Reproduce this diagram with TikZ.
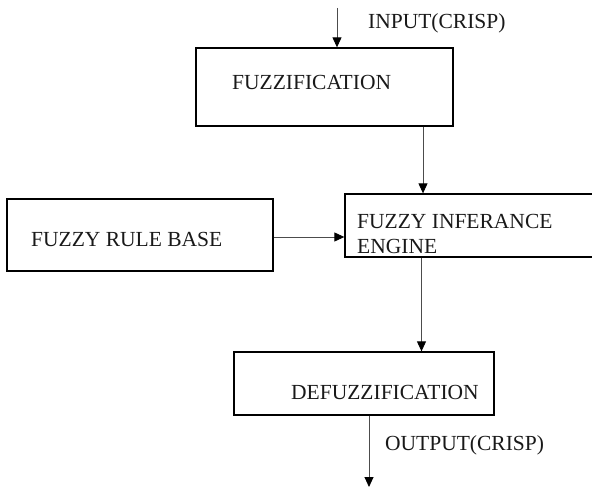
\documentclass[tikz,border=0pt]{standalone}
\usepackage{fontspec}
\setmainfont{Liberation Serif}
\usetikzlibrary{arrows.meta}
\begin{document}
\begin{tikzpicture}[x=1pt,y=-1pt,
  blk/.style={draw=black,line width=1.3pt,rectangle,inner sep=0pt},
  lbl/.style={anchor=base west,inner sep=0pt,font=\fontsize{21.5}{25}\selectfont,text=black!90},
  arr/.style={draw=black!70,line width=0.9pt,-{Triangle[width=9pt,length=10pt,fill=black,color=black]}}]
\useasboundingbox (0,0) rectangle (592,489);
% boxes
\node[blk,minimum width=257pt,minimum height=78pt] (fuzz) at (324.5,87) {};
\node[blk,minimum width=266pt,minimum height=72pt] (rule) at (140,235) {};
\node[blk,minimum width=252pt,minimum height=63pt] (inf) at (471,225.5) {};
\node[blk,minimum width=260pt,minimum height=63pt] (defz) at (364,383.5) {};
% texts
\node[lbl] (tfuzz) at (232,90) {FUZZIFICATION};
\node[lbl] (trule) at (31,247) {FUZZY RULE BASE};
\node[lbl,align=left] (tinf) at (357,254) {FUZZY INFERANCE\\ENGINE};
\node[lbl] (tdefz) at (291,399) {DEFUZZIFICATION};
\node[lbl] (tin) at (368,29) {INPUT(CRISP)};
\node[lbl] (tout) at (385,450) {OUTPUT(CRISP)};
% connector helpers
\coordinate (inTop) at (337,8);
\coordinate (c1) at (423,0);
\coordinate (c2) at (0,237);
\coordinate (c3) at (421.5,0);
\coordinate (outEnd) at (369,487);
% connectors
\draw[arr] (inTop) -- (inTop |- fuzz.north);
\draw[arr] (c1 |- fuzz.south) -- (c1 |- inf.north);
\draw[arr] (rule.east |- c2) -- (inf.west |- c2);
\draw[arr] (c3 |- inf.south) -- (c3 |- defz.north);
\draw[arr] (outEnd |- defz.south) -- (outEnd);
\end{tikzpicture}
\end{document}
